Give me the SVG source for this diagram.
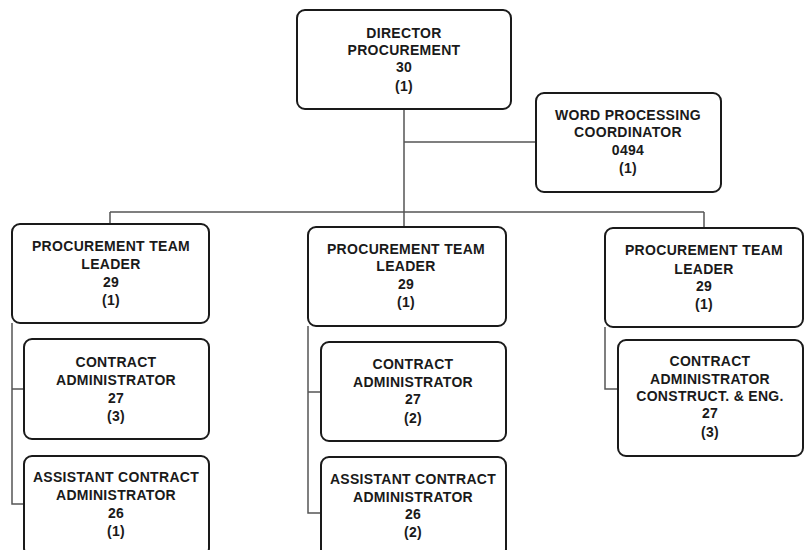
<svg xmlns="http://www.w3.org/2000/svg" width="807" height="550" viewBox="0 0 807 550">
<style>
.box{fill:#fff;stroke:#1a1a1a;stroke-width:2}
.t{font-family:"Liberation Sans",Arial,sans-serif;font-size:14px;font-weight:bold;fill:#1a1a1a;text-anchor:middle;letter-spacing:0.3px}
.c{fill:none;stroke:#555;stroke-width:1.5}
</style>
<rect width="807" height="550" fill="#fff"/>
<g id="connectors">
<path class="c" d="M404 109V227M404 142H536M110 212H704M110 212V224M704 212V228"/>
<path class="c" d="M12 323V504H24M12 389H24"/>
<path class="c" d="M308 326V513H321M308 392H321"/>
<path class="c" d="M605 327V389H618"/>
</g>
<g id="director">
<rect class="box" x="297" y="10" width="214" height="99" rx="8"/>
<text class="t" x="404" y="38">DIRECTOR</text>
<text class="t" x="404" y="55">PROCUREMENT</text>
<text class="t" x="404" y="72">30</text>
<text class="t" x="404" y="91">(1)</text>
</g>
<g id="wordproc">
<rect class="box" x="536" y="93" width="185" height="99" rx="8"/>
<text class="t" x="628" y="120">WORD PROCESSING</text>
<text class="t" x="628" y="137">COORDINATOR</text>
<text class="t" x="628" y="155">0494</text>
<text class="t" x="628" y="173">(1)</text>
</g>
<g id="ptl1">
<rect class="box" x="12" y="224" width="197" height="99" rx="8"/>
<text class="t" x="111" y="251">PROCUREMENT TEAM</text>
<text class="t" x="111" y="269">LEADER</text>
<text class="t" x="111" y="287">29</text>
<text class="t" x="111" y="305">(1)</text>
</g>
<g id="ca1">
<rect class="box" x="24" y="339" width="185" height="100" rx="8"/>
<text class="t" x="116" y="367">CONTRACT</text>
<text class="t" x="116" y="385">ADMINISTRATOR</text>
<text class="t" x="116" y="403">27</text>
<text class="t" x="116" y="421">(3)</text>
</g>
<g id="aca1">
<rect class="box" x="24" y="456" width="185" height="100" rx="8"/>
<text class="t" x="116" y="482">ASSISTANT CONTRACT</text>
<text class="t" x="116" y="500">ADMINISTRATOR</text>
<text class="t" x="116" y="518">26</text>
<text class="t" x="116" y="536">(1)</text>
</g>
<g id="ptl2">
<rect class="box" x="308" y="227" width="198" height="99" rx="8"/>
<text class="t" x="406" y="254">PROCUREMENT TEAM</text>
<text class="t" x="406" y="271">LEADER</text>
<text class="t" x="406" y="289">29</text>
<text class="t" x="406" y="307">(1)</text>
</g>
<g id="ca2">
<rect class="box" x="321" y="342" width="185" height="99" rx="8"/>
<text class="t" x="413" y="369">CONTRACT</text>
<text class="t" x="413" y="387">ADMINISTRATOR</text>
<text class="t" x="413" y="404">27</text>
<text class="t" x="413" y="423">(2)</text>
</g>
<g id="aca2">
<rect class="box" x="321" y="457" width="185" height="100" rx="8"/>
<text class="t" x="413" y="484">ASSISTANT CONTRACT</text>
<text class="t" x="413" y="502">ADMINISTRATOR</text>
<text class="t" x="413" y="519">26</text>
<text class="t" x="413" y="537">(2)</text>
</g>
<g id="ptl3">
<rect class="box" x="605" y="228" width="198" height="99" rx="8"/>
<text class="t" x="704" y="255">PROCUREMENT TEAM</text>
<text class="t" x="704" y="274">LEADER</text>
<text class="t" x="704" y="291">29</text>
<text class="t" x="704" y="309">(1)</text>
</g>
<g id="ca3">
<rect class="box" x="618" y="340" width="185" height="116" rx="8"/>
<text class="t" x="710" y="366">CONTRACT</text>
<text class="t" x="710" y="384">ADMINISTRATOR</text>
<text class="t" x="710" y="401">CONSTRUCT. &amp; ENG.</text>
<text class="t" x="710" y="418">27</text>
<text class="t" x="710" y="437">(3)</text>
</g>
</svg>
